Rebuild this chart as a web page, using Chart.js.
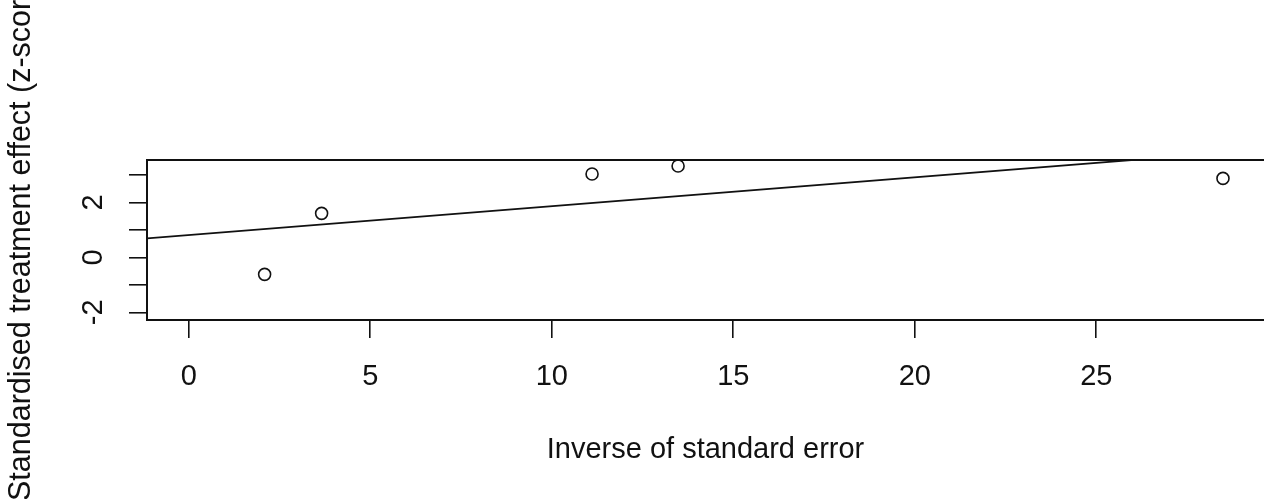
<!DOCTYPE html>
<html>
<head>
<meta charset="utf-8">
<script src="https://cdn.jsdelivr.net/npm/chart.js@4/dist/chart.umd.min.js"></script>
<style>
  html, body { margin: 0; padding: 0; background: #fff; }
  #wrap { width: 1264px; height: 499px; }
</style>
</head>
<body>
<div id="wrap"><canvas id="galbraith"></canvas></div>
<script>
// values
const inverseSE = [2.09, 3.66, 11.11, 13.48, 28.49];
const zScores = [-0.62, 1.6, 3.03, 3.32, 2.87];
const fitIntercept = 0.81;
const fitSlope = 0.105;

const xRange = [-1.15, 29.62];
const yRange = [-2.28, 3.54];
const xTicks = [0, 5, 10, 15, 20, 25];
const yTicks = [-2, -1, 0, 1, 2, 3];
const yTickLabels = ["-2", "", "0", "", "2", ""];
const yTitle = "Standardised treatment effect (z-score)";

const FONT = "'Liberation Sans', Arial, sans-serif";
const INK = "#111";

// R-style box (right side off the page), rotated y tick labels, y title
const rStyle = {
  id: "rStyle",
  afterDraw(chart) {
    const { ctx, chartArea: a } = chart;
    ctx.save();
    ctx.strokeStyle = INK;
    ctx.lineWidth = 2;
    ctx.strokeRect(a.left, a.top, a.right - a.left + 20, a.bottom - a.top);

    const ys = chart.scales.y;
    ctx.fillStyle = INK;
    ctx.font = "29px " + FONT;
    ctx.textAlign = "center";
    ctx.textBaseline = "middle";
    yTicks.forEach((v, i) => {
      if (!yTickLabels[i]) return;
      ctx.save();
      ctx.translate(94, ys.getPixelForValue(v));
      ctx.rotate(-Math.PI / 2);
      ctx.fillText(yTickLabels[i], 0, 0);
      ctx.restore();
    });

    // axis title runs off the top of the page like in the original
    ctx.font = "30.5px " + FONT;
    ctx.textAlign = "left";
    ctx.translate(22, 501);
    ctx.rotate(-Math.PI / 2);
    ctx.fillText(yTitle, 0, 0);
    ctx.restore();
  }
};

const lineX = [xRange[0], xRange[1]];
const fitLine = lineX.map((x) => ({ x: x, y: fitIntercept + fitSlope * x }));

new Chart(document.getElementById("galbraith"), {
  type: "scatter",
  data: {
    datasets: [
      {
        label: "studies",
        data: inverseSE.map((x, i) => ({ x: x, y: zScores[i] })),
        pointStyle: "circle",
        pointRadius: 6,
        pointBorderWidth: 1.6,
        pointBorderColor: INK,
        pointBackgroundColor: "rgba(0,0,0,0)",
        showLine: false,
      },
      {
        label: "fit",
        type: "line",
        data: fitLine,
        borderColor: INK,
        borderWidth: 1.8,
        pointRadius: 0,
        fill: false,
      },
    ],
  },
  options: {
    responsive: true,
    maintainAspectRatio: false,
    animation: false,
    events: [],
    layout: { autoPadding: false, padding: { top: 160, left: 0, right: 0, bottom: 0 } },
    plugins: { legend: { display: false }, tooltip: { enabled: false } },
    scales: {
      x: {
        type: "linear",
        min: xRange[0],
        max: xRange[1],
        afterBuildTicks: (s) => { s.ticks = xTicks.map((v) => ({ value: v })); },
        afterFit: (s) => { s.height = 179; s.paddingLeft = 0; s.paddingRight = 0; },
        grid: { drawOnChartArea: false, drawTicks: true, tickLength: 18, color: INK, lineWidth: 1.6 },
        border: { display: false },
        ticks: { color: INK, font: { family: FONT, size: 29 }, padding: 22, maxRotation: 0, autoSkip: false },
        title: {
          display: true,
          text: "Inverse of standard error",
          color: INK,
          font: { family: FONT, size: 29 },
          padding: { top: 0, bottom: 32 },
        },
      },
      y: {
        type: "linear",
        min: yRange[0],
        max: yRange[1],
        afterBuildTicks: (s) => { s.ticks = yTicks.map((v) => ({ value: v })); },
        afterFit: (s) => { s.width = 147; s.paddingTop = 0; s.paddingBottom = 0; },
        grid: { drawOnChartArea: false, drawTicks: true, tickLength: 18, color: INK, lineWidth: 1.6 },
        border: { display: false },
        ticks: { display: false },
        title: { display: false },
      },
    },
  },
  plugins: [rStyle],
});
</script>
</body>
</html>
